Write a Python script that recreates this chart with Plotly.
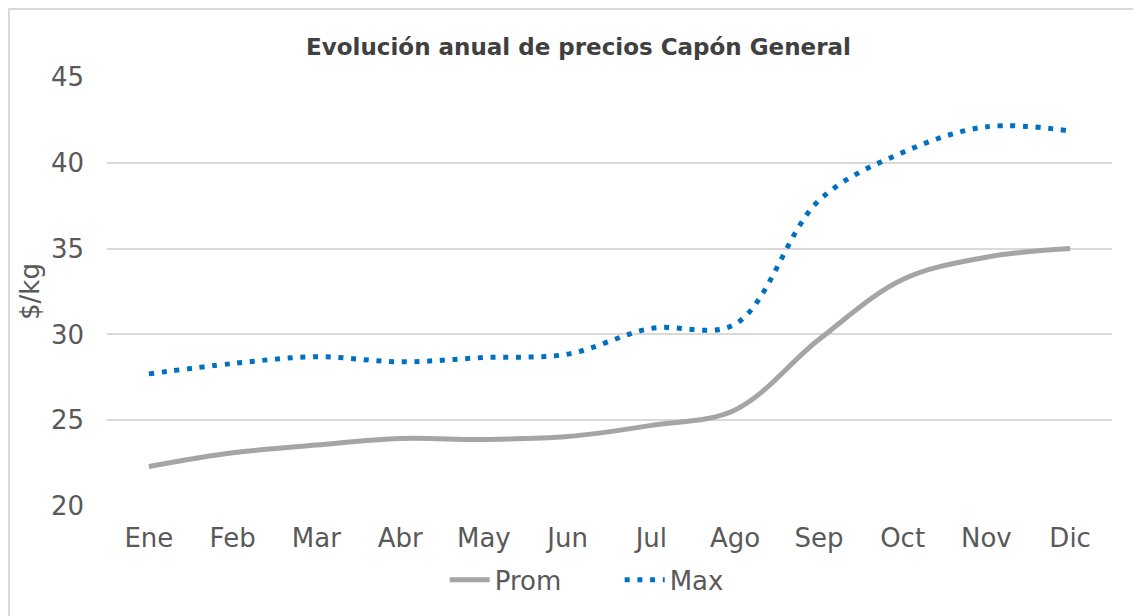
import plotly.graph_objects as go

meses = ["Ene", "Feb", "Mar", "Abr", "May", "Jun", "Jul", "Ago", "Sep", "Oct", "Nov", "Dic"]
prom = [22.3, 23.1, 23.55, 23.93, 23.88, 24.05, 24.7, 25.6, 29.7, 33.2, 34.5, 35.0]
maxi = [27.7, 28.3, 28.7, 28.4, 28.65, 28.85, 30.35, 30.6, 37.8, 40.6, 42.1, 41.85]

fuente = "Century Gothic, DejaVu Sans, sans-serif"

fig = go.Figure()
fig.add_trace(go.Scatter(x=meses, y=prom, name="Prom", mode="lines",
                         line=dict(color="#A5A5A5", width=5, shape="spline", smoothing=1.0)))
fig.add_trace(go.Scatter(x=meses, y=maxi, name="Max", mode="lines",
                         line=dict(color="#0070C0", width=5, shape="spline", smoothing=1.0,
                                   dash="5px,7.7px")))

fig.update_layout(
    width=1141, height=616,
    paper_bgcolor="white", plot_bgcolor="white",
    margin=dict(l=99, r=37, t=69, b=118, autoexpand=False),
    title=dict(text="<b>Evolución anual de precios Capón General</b>",
               x=0.5, xanchor="center", y=0.937, yanchor="middle",
               font=dict(family=fuente, size=23, color="#404040")),
    font=dict(family=fuente, color="#595959"),
    legend=dict(orientation="h", x=0.336, xanchor="left", y=-0.172, yanchor="middle",
                font=dict(size=26, color="#595959"), tracegroupgap=0,
                entrywidth=120, entrywidthmode="pixels", itemwidth=40),
    showlegend=True,
)
fig.update_xaxes(range=[-0.5, 11.5], showgrid=False, showline=False, ticks="",
                 tickfont=dict(size=26, color="#595959"), ticklabelstandoff=14)
fig.update_yaxes(range=[20, 45], dtick=5, showgrid=True, gridcolor="#D9D9D9", gridwidth=1.5,
                 zeroline=False, showline=False, ticks="",
                 tickfont=dict(size=26, color="#595959"), ticklabelstandoff=22,
                 title=dict(text="$/kg", font=dict(size=26, color="#595959"), standoff=3))

fig.add_shape(type="rect", xref="paper", yref="paper",
              x0=-98 / 1005, x1=1.04, y0=-0.3, y1=1 + 68 / 429,
              line=dict(color="#D9D9D9", width=2), fillcolor="rgba(0,0,0,0)", layer="below")

fig.write_html("out.html")
